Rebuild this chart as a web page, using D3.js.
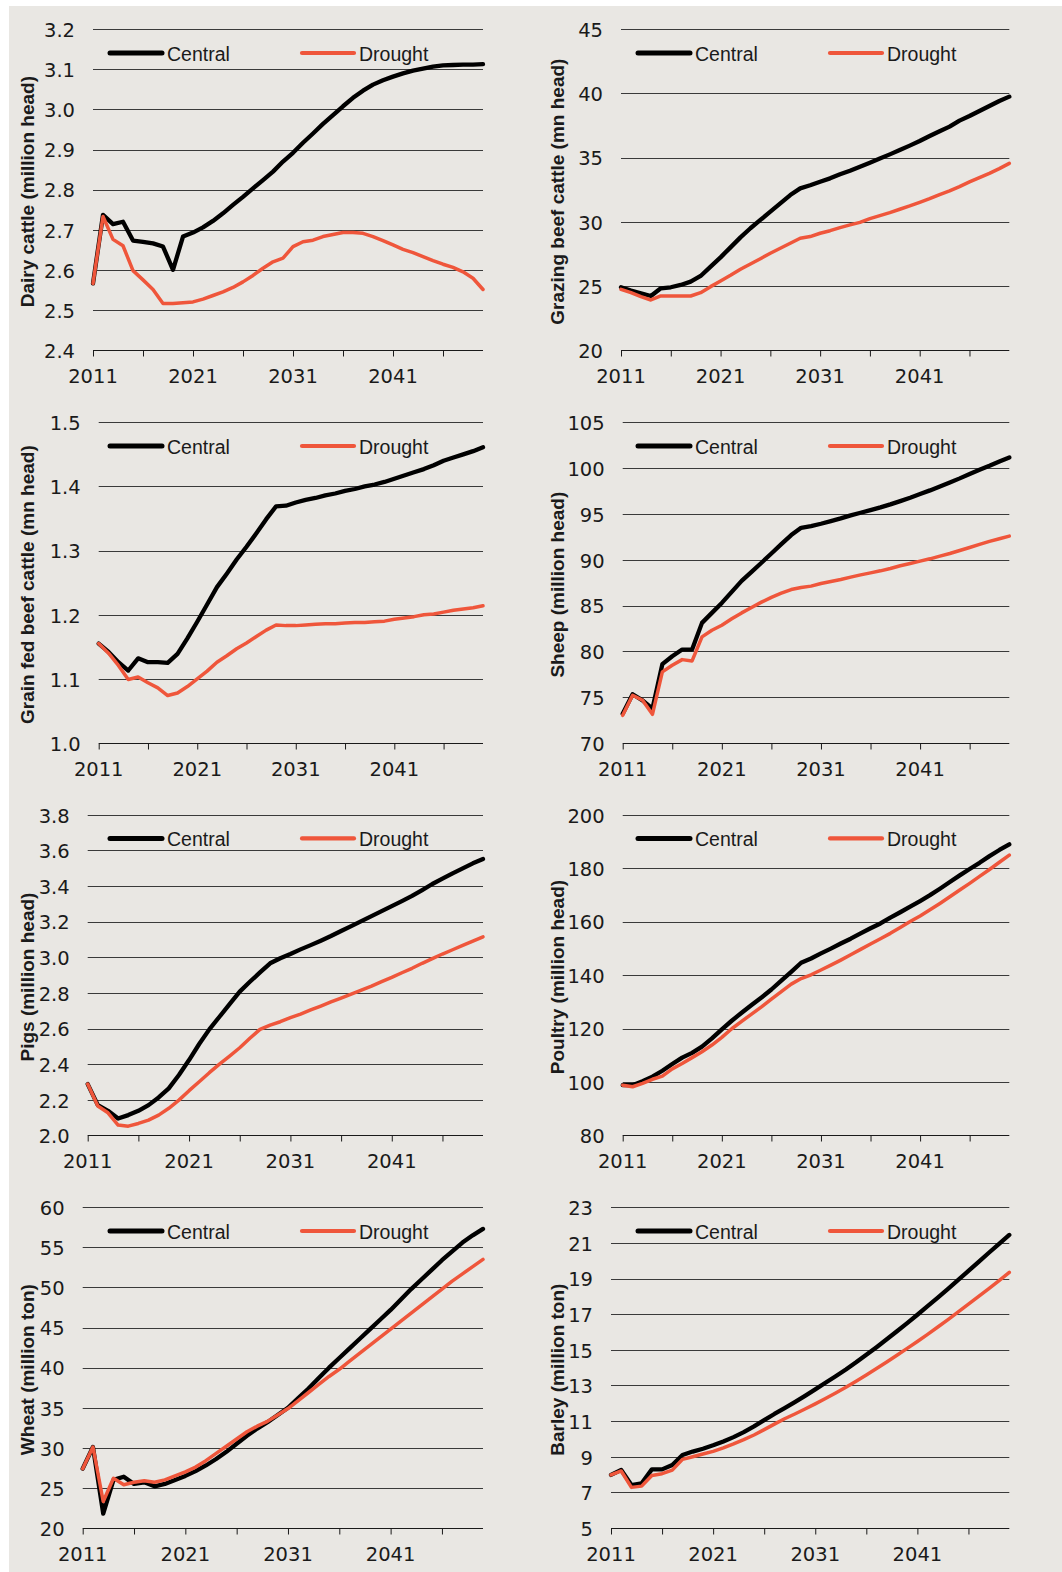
<!DOCTYPE html>
<html>
<head>
<meta charset="utf-8">
<script src="https://cdn.jsdelivr.net/npm/d3@7"></script>
<style>
  body { margin: 0; background: #ffffff; }
  svg { display: block; }
</style>
</head>
<body>
<div id="chart"></div>
<script>
// years on the x axis
var years = [2011, 2012, 2013, 2014, 2015, 2016, 2017, 2018, 2019, 2020,
             2021, 2022, 2023, 2024, 2025, 2026, 2027, 2028, 2029, 2030,
             2031, 2032, 2033, 2034, 2035, 2036, 2037, 2038, 2039, 2040,
             2041, 2042, 2043, 2044, 2045, 2046, 2047, 2048, 2049, 2050];
var tickYears = [2011, 2016, 2021, 2026, 2031, 2036, 2041, 2046];
var labelYears = [2011, 2021, 2031, 2041];
var seriesNames = ["Central", "Drought"];

var dairyCentral = [2.566, 2.737, 2.714, 2.72, 2.673, 2.67, 2.666, 2.658, 2.60, 2.683,
                    2.693, 2.706, 2.722, 2.741, 2.762, 2.782, 2.803, 2.824, 2.845, 2.87,
                    2.892, 2.917, 2.94, 2.964, 2.986, 3.008, 3.029, 3.047, 3.062, 3.073,
                    3.082, 3.09, 3.097, 3.102, 3.107, 3.11, 3.111, 3.112, 3.112, 3.113];
var dairyDrought = [2.566, 2.733, 2.676, 2.66, 2.598, 2.575, 2.551, 2.516, 2.516, 2.518,
                    2.52, 2.527, 2.536, 2.545, 2.556, 2.57, 2.586, 2.604, 2.62, 2.629,
                    2.658, 2.67, 2.674, 2.683, 2.688, 2.693, 2.693, 2.691, 2.683, 2.673,
                    2.662, 2.651, 2.643, 2.633, 2.623, 2.614, 2.606, 2.595, 2.579, 2.551];
var dairyTicks = [2.4, 2.5, 2.6, 2.7, 2.8, 2.9, 3.0, 3.1, 3.2];

var grazingCentral = [24.89, 24.63, 24.42, 24.21, 24.81, 24.89, 25.07, 25.33, 25.77, 26.5,
                      27.22, 28.0, 28.78, 29.49, 30.14, 30.78, 31.43, 32.08, 32.6, 32.84,
                      33.12, 33.38, 33.7, 33.98, 34.29, 34.6, 34.92, 35.25, 35.59, 35.93,
                      36.29, 36.68, 37.05, 37.41, 37.88, 38.24, 38.63, 39.02, 39.41, 39.75];
var grazingDrought = [24.73, 24.47, 24.16, 23.9, 24.21, 24.21, 24.21, 24.21, 24.47, 24.94,
                      25.38, 25.82, 26.29, 26.7, 27.12, 27.54, 27.93, 28.32, 28.71, 28.84,
                      29.1, 29.3, 29.54, 29.75, 29.95, 30.24, 30.47, 30.71, 30.97, 31.23,
                      31.51, 31.8, 32.11, 32.4, 32.73, 33.1, 33.44, 33.77, 34.14, 34.55];
var grazingTicks = [20, 25, 30, 35, 40, 45];

var grainCentral = [1.155, 1.142, 1.126, 1.113, 1.132, 1.126, 1.126, 1.125, 1.139, 1.163,
                    1.189, 1.216, 1.243, 1.264, 1.286, 1.306, 1.327, 1.349, 1.369, 1.37,
                    1.375, 1.379, 1.382, 1.386, 1.389, 1.393, 1.396, 1.4, 1.403, 1.407,
                    1.412, 1.417, 1.422, 1.427, 1.433, 1.44, 1.445, 1.45, 1.455, 1.461];
var grainDrought = [1.155, 1.14, 1.121, 1.099, 1.103, 1.094, 1.086, 1.074, 1.078, 1.088,
                    1.1, 1.112, 1.126, 1.136, 1.147, 1.156, 1.166, 1.176, 1.184, 1.183,
                    1.183, 1.184, 1.185, 1.186, 1.186, 1.187, 1.188, 1.188, 1.189, 1.19,
                    1.193, 1.195, 1.197, 1.2, 1.201, 1.204, 1.207, 1.209, 1.211, 1.214];
var grainTicks = [1.0, 1.1, 1.2, 1.3, 1.4, 1.5];

var sheepCentral = [73.2, 75.32, 74.66, 73.75, 78.6, 79.47, 80.2, 80.2, 83.11, 84.2,
                    85.29, 86.5, 87.7, 88.68, 89.67, 90.68, 91.7, 92.69, 93.49, 93.67,
                    93.93, 94.22, 94.51, 94.84, 95.13, 95.42, 95.71, 96.04, 96.4, 96.77,
                    97.17, 97.57, 98.0, 98.44, 98.88, 99.35, 99.82, 100.26, 100.73, 101.17];
var sheepDrought = [73.02, 75.21, 74.66, 73.13, 77.76, 78.49, 79.1, 78.96, 81.58, 82.31,
                    82.85, 83.55, 84.2, 84.79, 85.37, 85.9, 86.35, 86.75, 86.97, 87.12,
                    87.41, 87.63, 87.84, 88.1, 88.35, 88.57, 88.79, 89.05, 89.34, 89.59,
                    89.85, 90.1, 90.39, 90.68, 91.01, 91.34, 91.67, 92.0, 92.29, 92.58];
var sheepTicks = [70, 75, 80, 85, 90, 95, 100, 105];

var pigsCentral = [2.288, 2.17, 2.138, 2.095, 2.114, 2.138, 2.17, 2.213, 2.264, 2.339,
                   2.423, 2.513, 2.595, 2.666, 2.737, 2.807, 2.862, 2.915, 2.966, 2.994,
                   3.018, 3.044, 3.068, 3.093, 3.119, 3.147, 3.175, 3.203, 3.231, 3.259,
                   3.287, 3.315, 3.344, 3.377, 3.411, 3.441, 3.471, 3.499, 3.527, 3.551];
var pigsDrought = [2.288, 2.165, 2.127, 2.058, 2.052, 2.067, 2.086, 2.114, 2.152, 2.198,
                   2.251, 2.301, 2.352, 2.4, 2.445, 2.492, 2.545, 2.595, 2.619, 2.638,
                   2.661, 2.681, 2.704, 2.726, 2.749, 2.771, 2.793, 2.816, 2.838, 2.863,
                   2.887, 2.913, 2.938, 2.966, 2.992, 3.018, 3.042, 3.066, 3.09, 3.114];
var pigsTicks = [2.0, 2.2, 2.4, 2.6, 2.8, 3.0, 3.2, 3.4, 3.6, 3.8];

var poultryCentral = [98.8, 98.8, 100.3, 102, 104.2, 106.7, 109.1, 110.9, 113.2, 116.3,
                      119.7, 122.9, 125.9, 128.8, 131.6, 134.6, 137.9, 141.2, 144.6, 146.2,
                      148.1, 149.9, 151.8, 153.6, 155.6, 157.5, 159.3, 161.5, 163.5, 165.6,
                      167.7, 169.9, 172.3, 174.8, 177.3, 179.7, 182, 184.5, 186.8, 188.9];
var poultryDrought = [98.8, 98.2, 99.5, 101, 102.2, 104.9, 106.9, 109.1, 111.3, 113.8,
                      116.7, 119.9, 122.7, 125.4, 128.1, 131, 133.8, 136.6, 138.7, 140.1,
                      141.9, 143.7, 145.6, 147.6, 149.6, 151.6, 153.6, 155.6, 157.8, 160,
                      162.1, 164.4, 166.8, 169.3, 171.8, 174.3, 176.9, 179.5, 182.2, 184.9];
var poultryTicks = [80, 100, 120, 140, 160, 180, 200];

var wheatCentral = [27.4, 30.1, 21.8, 26.0, 26.4, 25.5, 25.7, 25.2, 25.5, 26.0,
                    26.5, 27.1, 27.8, 28.6, 29.5, 30.5, 31.5, 32.4, 33.2, 34.1,
                    35.0, 36.2, 37.4, 38.7, 40.0, 41.2, 42.4, 43.6, 44.8, 46.0,
                    47.2, 48.5, 49.8, 51.0, 52.2, 53.4, 54.5, 55.6, 56.5, 57.3];
var wheatDrought = [27.4, 30.1, 23.3, 26.2, 25.4, 25.7, 25.9, 25.7, 26.0, 26.5,
                    27.0, 27.6, 28.4, 29.3, 30.2, 31.1, 32.0, 32.7, 33.3, 34.1,
                    34.9, 35.9, 36.9, 37.9, 38.9, 39.8, 40.8, 41.8, 42.8, 43.8,
                    44.8, 45.8, 46.8, 47.8, 48.8, 49.8, 50.8, 51.7, 52.6, 53.5];
var wheatTicks = [20, 25, 30, 35, 40, 45, 50, 55, 60];

var barleyCentral = [7.98, 8.26, 7.41, 7.51, 8.29, 8.29, 8.54, 9.1, 9.29, 9.45,
                     9.64, 9.86, 10.1, 10.38, 10.7, 11.05, 11.4, 11.73, 12.07, 12.42,
                     12.78, 13.15, 13.52, 13.9, 14.3, 14.72, 15.15, 15.59, 16.04, 16.5,
                     16.97, 17.45, 17.93, 18.42, 18.92, 19.43, 19.94, 20.45, 20.95, 21.45];
var barleyDrought = [7.98, 8.2, 7.28, 7.35, 7.95, 8.05, 8.25, 8.85, 9.0, 9.15,
                     9.3, 9.5, 9.72, 9.96, 10.22, 10.52, 10.83, 11.13, 11.4, 11.68,
                     11.97, 12.27, 12.58, 12.9, 13.24, 13.59, 13.95, 14.32, 14.7, 15.08,
                     15.47, 15.87, 16.28, 16.7, 17.13, 17.56, 18.0, 18.44, 18.89, 19.35];
var barleyTicks = [5, 7, 9, 11, 13, 15, 17, 19, 21, 23];

var titles = ["Dairy cattle (million head)", "Grazing beef cattle (mn head)",
              "Grain fed beef cattle (mn head)", "Sheep (million head)",
              "Pigs (million head)", "Poultry (million head)",
              "Wheat (million ton)", "Barley (million ton)"];

var panels = [
  {title: titles[0], central: dairyCentral, drought: dairyDrought, ticks: dairyTicks, fmt: ".1f"},
  {title: titles[1], central: grazingCentral, drought: grazingDrought, ticks: grazingTicks, fmt: "d"},
  {title: titles[2], central: grainCentral, drought: grainDrought, ticks: grainTicks, fmt: ".1f"},
  {title: titles[3], central: sheepCentral, drought: sheepDrought, ticks: sheepTicks, fmt: "d"},
  {title: titles[4], central: pigsCentral, drought: pigsDrought, ticks: pigsTicks, fmt: ".1f"},
  {title: titles[5], central: poultryCentral, drought: poultryDrought, ticks: poultryTicks, fmt: "d"},
  {title: titles[6], central: wheatCentral, drought: wheatDrought, ticks: wheatTicks, fmt: "d"},
  {title: titles[7], central: barleyCentral, drought: barleyDrought, ticks: barleyTicks, fmt: "d"}
];

// layout (pixels)
var width = 1062, height = 1572;
var colX = [0, 530];
var plotRight = [483, 1009.3];
var rowTop = [29.3, 422.3, 814.7, 1207.3];
var plotH = 320.7;
var plotLeft = [93, 621, 98.7, 622.7, 87.7, 622.7, 82.7, 611];

var colors = {"Central": "#000000", "Drought": "#ef563b"};
var lineWidth = {"Central": 4.3, "Drought": 3.5};
var numFont = "'DejaVu Sans', sans-serif";
var textFont = "'Liberation Sans', Arial, sans-serif";

var svg = d3.select("#chart").append("svg")
  .attr("width", width)
  .attr("height", height);

svg.append("rect").attr("width", width).attr("height", height).attr("fill", "#ffffff");
svg.append("rect")
  .attr("x", 9).attr("y", 6)
  .attr("width", width - 9).attr("height", height - 6)
  .attr("fill", "#e9e7e3");

panels.forEach(function(p, i) {
  var col = i % 2;
  var row = Math.floor(i / 2);
  var cx = colX[col];
  var top = rowTop[row];
  var bottom = top + plotH;

  var x = d3.scaleLinear()
    .domain([years[0], years[years.length - 1]])
    .range([plotLeft[i], plotRight[col]]);
  var y = d3.scaleLinear()
    .domain(d3.extent(p.ticks))
    .range([bottom, top]);

  var g = svg.append("g");

  // gridlines
  g.append("g")
    .selectAll("line")
    .data(p.ticks.slice(1))
    .join("line")
      .attr("x1", plotLeft[i])
      .attr("x2", plotRight[col])
      .attr("y1", function(d) { return Math.round(y(d)) + 0.5; })
      .attr("y2", function(d) { return Math.round(y(d)) + 0.5; })
      .attr("stroke", "#3a3a3a")
      .attr("stroke-width", 1.1);

  // x axis
  var xAxis = g.append("g")
    .attr("transform", "translate(0," + (Math.round(bottom) + 0.5) + ")")
    .call(d3.axisBottom(x).tickValues(tickYears).tickSize(6).tickFormat(""));
  xAxis.select(".domain")
    .attr("d", "M" + plotLeft[i] + ",0H" + plotRight[col])
    .attr("stroke", "#1a1a1a");
  xAxis.selectAll(".tick line").attr("stroke", "#1a1a1a");

  g.append("g")
    .selectAll("text")
    .data(labelYears)
    .join("text")
      .attr("x", function(d) { return x(d); })
      .attr("y", bottom + 33)
      .attr("text-anchor", "middle")
      .style("font-family", numFont)
      .style("font-size", "19.5px")
      .attr("fill", "#1a1a1a")
      .text(function(d) { return d; });

  // y tick labels
  var fmt = d3.format(p.fmt);
  g.append("g")
    .selectAll("text")
    .data(p.ticks)
    .join("text")
      .attr("x", plotLeft[i] - 18)
      .attr("y", function(d) { return y(d); })
      .attr("dy", "0.4em")
      .attr("text-anchor", "end")
      .style("font-family", numFont)
      .style("font-size", "19.5px")
      .attr("fill", "#1a1a1a")
      .text(function(d) { return fmt(d); });

  // axis title
  g.append("text")
    .attr("transform", "translate(" + (cx + 33.5) + "," + (top + plotH / 2 + 2) + ") rotate(-90)")
    .attr("text-anchor", "middle")
    .style("font-family", textFont)
    .style("font-size", "19px")
    .style("font-weight", "bold")
    .attr("fill", "#1a1a1a")
    .text(p.title);

  // series lines (drought drawn over central)
  var line = d3.line()
    .x(function(d, k) { return x(years[k]); })
    .y(function(d) { return y(d); });

  [["Central", p.central], ["Drought", p.drought]].forEach(function(s) {
    g.append("path")
      .datum(s[1])
      .attr("fill", "none")
      .attr("stroke", colors[s[0]])
      .attr("stroke-width", lineWidth[s[0]])
      .attr("stroke-linejoin", "round")
      .attr("stroke-linecap", "round")
      .attr("d", line);
  });

  // legend
  var ly = top + 23.7;
  var legendX = [110, 302];
  seriesNames.forEach(function(name, k) {
    var lx = cx + legendX[k] - col * 2;
    g.append("line")
      .attr("x1", lx).attr("x2", lx + 52)
      .attr("y1", ly).attr("y2", ly)
      .attr("stroke", colors[name])
      .attr("stroke-width", name === "Central" ? 5 : 4.2)
      .attr("stroke-linecap", "round");
    g.append("text")
      .attr("x", lx + 57)
      .attr("y", ly + 7.5)
      .style("font-family", textFont)
      .style("font-size", "19.5px")
      .attr("fill", "#1a1a1a")
      .text(name);
  });
});
</script>
</body>
</html>
